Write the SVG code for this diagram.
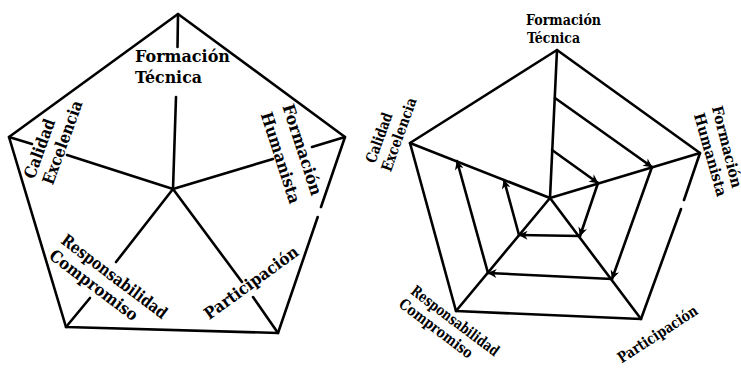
<svg xmlns="http://www.w3.org/2000/svg" width="741" height="369" viewBox="0 0 741 369">
<defs>
<style>
.ln{stroke:#000;stroke-width:2.6;fill:none;stroke-linecap:round;stroke-linejoin:round}
.ar{stroke:#000;stroke-width:2.6;fill:none;stroke-linecap:round;marker-end:url(#ah)}
.t1{font-family:"DejaVu Serif","Liberation Serif",serif;font-weight:bold;font-size:16.5px;fill:#000}
.t2{font-family:"DejaVu Serif","Liberation Serif",serif;font-weight:bold;font-size:15px;fill:#000}
.m{text-anchor:middle}
</style>
<marker id="ah" viewBox="0 0 10 10" refX="9.5" refY="5" markerWidth="10" markerHeight="9" markerUnits="userSpaceOnUse" orient="auto">
<path d="M0,0 L10,5 L0,10 L3,5 z" fill="#000"/>
</marker>
</defs>
<rect width="741" height="369" fill="#fff"/>

<g id="left-pentagon">
<polyline class="ln" points="321,207 345,137 178,14 9,137 66,327 278,333 317.7,217"/>
<line class="ln" x1="178" y1="14" x2="177.5" y2="47"/>
<line class="ln" x1="176" y1="97" x2="173" y2="189"/>
<line class="ln" x1="9" y1="137" x2="32" y2="144"/>
<line class="ln" x1="67" y1="155" x2="173" y2="189"/>
<line class="ln" x1="345" y1="137" x2="312" y2="147"/>
<line class="ln" x1="273" y1="159" x2="173" y2="189"/>
<line class="ln" x1="173" y1="189" x2="116" y2="262"/>
<line class="ln" x1="90" y1="298" x2="66" y2="327"/>
<line class="ln" x1="173" y1="189" x2="242" y2="282"/>
<line class="ln" x1="253" y1="297" x2="278" y2="333"/>
</g>
<g id="left-labels">
<text class="t1" x="135" y="62" textLength="95" lengthAdjust="spacingAndGlyphs">Formación</text>
<text class="t1" x="135" y="83" textLength="67" lengthAdjust="spacingAndGlyphs">Técnica</text>
<text class="t1 m" transform="translate(44.8,150.5) rotate(-70)" textLength="62" lengthAdjust="spacingAndGlyphs">Calidad</text>
<text class="t1 m" transform="translate(67.8,144.5) rotate(-70)" textLength="88" lengthAdjust="spacingAndGlyphs">Excelencia</text>
<text class="t1 m" transform="translate(297,151.5) rotate(72)" textLength="95" lengthAdjust="spacingAndGlyphs">Formación</text>
<text class="t1 m" transform="translate(275.2,159.5) rotate(72)" textLength="95" lengthAdjust="spacingAndGlyphs">Humanista</text>
<text class="t1 m" transform="translate(111,281) rotate(37)" textLength="128" lengthAdjust="spacingAndGlyphs">Responsabilidad</text>
<text class="t1 m" transform="translate(90.4,289.7) rotate(37)" textLength="106" lengthAdjust="spacingAndGlyphs">Compromiso</text>
<text class="t1 m" transform="translate(254.6,287.3) rotate(-36)" textLength="112" lengthAdjust="spacingAndGlyphs">Participación</text>
</g>

<g id="right-pentagon">
<polyline class="ln" points="684,200 700,153 557,50 410,143 456,311 641,319 681,209"/>
<line class="ln" x1="557" y1="50" x2="550" y2="198"/>
<line class="ln" x1="410" y1="143" x2="550" y2="198"/>
<line class="ln" x1="700" y1="153" x2="550" y2="198"/>
<line class="ln" x1="456" y1="311" x2="550" y2="198"/>
<line class="ln" x1="641" y1="319" x2="550" y2="198"/>
</g>
<g id="right-labels">
<text class="t2" x="526" y="25" textLength="75" lengthAdjust="spacingAndGlyphs" style="font-size:14px">Formación</text>
<text class="t2" x="527" y="43" textLength="53" lengthAdjust="spacingAndGlyphs" style="font-size:14px">Técnica</text>
<text class="t2 m" transform="translate(383.8,139.5) rotate(-70)" textLength="52" lengthAdjust="spacingAndGlyphs">Calidad</text>
<text class="t2 m" transform="translate(403.8,136.2) rotate(-70)" textLength="77" lengthAdjust="spacingAndGlyphs">Excelencia</text>
<text class="t2 m" transform="translate(722,148) rotate(76)" textLength="84" lengthAdjust="spacingAndGlyphs">Formación</text>
<text class="t2 m" transform="translate(705.5,156.2) rotate(74)" textLength="86" lengthAdjust="spacingAndGlyphs">Humanista</text>
<text class="t2 m" transform="translate(452,325) rotate(37)" textLength="106" lengthAdjust="spacingAndGlyphs">Responsabilidad</text>
<text class="t2 m" transform="translate(433,332.5) rotate(37)" textLength="88" lengthAdjust="spacingAndGlyphs">Compromiso</text>
<text class="t2 m" transform="translate(660.4,338.5) rotate(-33)" textLength="92" lengthAdjust="spacingAndGlyphs">Participación</text>
</g>

<g id="connectors">
<line class="ar" x1="555" y1="98" x2="652" y2="167"/>
<line class="ar" x1="652" y1="167" x2="612" y2="279"/>
<line class="ar" x1="612" y1="279" x2="488" y2="273"/>
<line class="ar" x1="488" y1="273" x2="457" y2="161"/>
<line class="ar" x1="552" y1="150" x2="598" y2="183"/>
<line class="ar" x1="598" y1="183" x2="580" y2="236"/>
<line class="ar" x1="580" y1="236" x2="519" y2="235"/>
<line class="ar" x1="519" y1="235" x2="504" y2="180"/>
</g>
</svg>
